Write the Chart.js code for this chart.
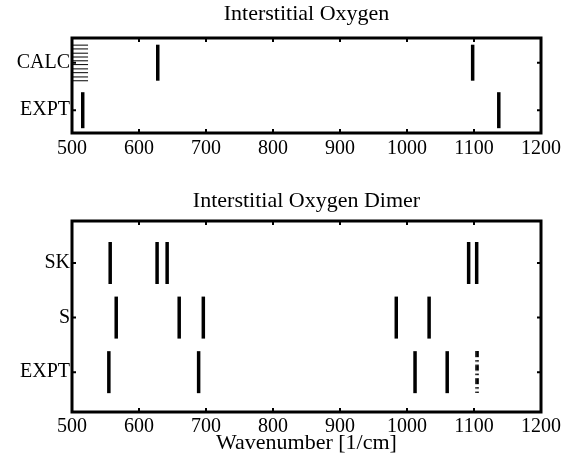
<!DOCTYPE html>
<html>
<head>
<meta charset="utf-8">
<script src="https://cdn.jsdelivr.net/npm/chart.js@4.4.1/dist/chart.umd.min.js"></script>
<style>
  html, body { margin: 0; padding: 0; background: #fff; }
  #wrap { position: relative; width: 571px; height: 459px; }
  canvas { position: absolute; left: 0; }
</style>
</head>
<body>
<div id="wrap">
  <canvas id="oxy" width="571" height="180" style="top:0;width:571px;height:180px"></canvas>
  <canvas id="dimer" width="571" height="279" style="top:180px;width:571px;height:279px"></canvas>
</div>
<script>
// wavenumber ticks shared by both panels
const xTicks = [500, 600, 700, 800, 900, 1000, 1100, 1200];

// Interstitial Oxygen (rows bottom -> top)
const oxyRows = ["EXPT", "CALC"];
const oxyExpt = [516, 1137];
const oxyCalc = [628, 1098];
// short horizontal lines stacked at the left edge of the CALC row (y in row units)
const oxyCalcHatch = [2.37, 2.29, 2.2, 2.12, 2.04, 1.96, 1.87, 1.79, 1.7, 1.62];
const oxyHatchX = 512;

// Interstitial Oxygen Dimer (rows bottom -> top)
const dimerRows = ["EXPT", "S", "SK"];
const dimerSK = [557, 627, 642, 1092, 1104];
const dimerS = [566, 660, 696, 984, 1033];
const dimerExpt = [555, 689, 1012, 1060];
const dimerExptDashed = [1105];

const serif = "'Liberation Serif', 'Times New Roman', serif";

// dash-dot vertical stroke used as a point style
function dashDotMark(len) {
  const c = document.createElement("canvas");
  c.width = 4;
  c.height = len;
  const g = c.getContext("2d");
  g.strokeStyle = "#000";
  g.lineWidth = 3.5;
  g.setLineDash([6, 3, 1.5, 3]);
  g.beginPath();
  g.moveTo(2, 0);
  g.lineTo(2, len);
  g.stroke();
  return c;
}

function marks(xs, row, radius) {
  return {
    data: xs.map((v) => ({ x: v, y: row })),
    pointStyle: "line",
    rotation: 90,
    radius: radius,
    borderWidth: 3.5,
    borderColor: "#000",
    showLine: false,
  };
}

// box frame with inward tick marks on all four sides
const frame = {
  id: "frame",
  afterDraw(chart) {
    const { ctx, chartArea: a, scales } = chart;
    const x = scales.x, y = scales.y;
    ctx.save();
    ctx.strokeStyle = "#000";
    ctx.lineWidth = 2;
    ctx.beginPath();
    x.ticks.forEach((t) => {
      const px = x.getPixelForValue(t.value);
      ctx.moveTo(px, a.bottom);
      ctx.lineTo(px, a.bottom - 4);
      ctx.moveTo(px, a.top);
      ctx.lineTo(px, a.top + 4);
    });
    y.ticks.forEach((t) => {
      const py = y.getPixelForValue(t.value);
      ctx.moveTo(a.left, py);
      ctx.lineTo(a.left + 4, py);
      ctx.moveTo(a.right, py);
      ctx.lineTo(a.right - 4, py);
    });
    ctx.stroke();
    ctx.lineWidth = 3;
    ctx.strokeRect(a.left, a.top, a.right - a.left, a.bottom - a.top);
    ctx.restore();
  },
};

function makeChart(id, cfg) {
  return new Chart(document.getElementById(id), {
    type: "scatter",
    data: { datasets: cfg.datasets },
    options: {
      responsive: false,
      animation: false,
      layout: { padding: { left: 0, right: 30, top: 0, bottom: 0 } },
      plugins: { legend: { display: false }, tooltip: { enabled: false } },
      scales: {
        x: {
          type: "linear",
          min: 500,
          max: 1200,
          afterBuildTicks: (s) => { s.ticks = xTicks.map((v) => ({ value: v })); },
          ticks: { font: { family: serif, size: 20 }, color: "#000", padding: cfg.tickPad, maxRotation: 0, autoSkip: false, callback: (v) => String(v) },
          grid: { display: false, drawTicks: false },
          border: { display: false },
          title: cfg.xTitle
            ? { display: true, text: cfg.xTitle, font: { family: serif, size: 22 }, color: "#000", padding: { top: 0, bottom: cfg.xTitlePad } }
            : { display: false },
          afterFit: (s) => { s.height = cfg.bottomH; },
        },
        x2: {
          type: "linear",
          axis: "x",
          position: "top",
          min: 500,
          max: 1200,
          ticks: { display: false },
          grid: { display: false, drawTicks: false },
          border: { display: false },
          title: { display: true, text: cfg.title, font: { family: serif, size: 22 }, color: "#000", padding: { top: cfg.titlePad, bottom: 0 } },
          afterFit: (s) => { s.height = cfg.topH; },
        },
        y: {
          type: "linear",
          min: cfg.yMin,
          max: cfg.yMax,
          afterBuildTicks: (s) => { s.ticks = cfg.rows.map((r, i) => ({ value: i + 1 })); },
          ticks: { font: { family: serif, size: 20 }, color: "#000", padding: 2, callback: (v) => cfg.rows[v - 1] },
          grid: { display: false, drawTicks: false },
          border: { display: false },
          afterFit: (s) => { s.width = 72; },
        },
      },
    },
    plugins: [frame],
  });
}

makeChart("oxy", {
  title: "Interstitial Oxygen",
  rows: oxyRows,
  yMin: 0.52,
  yMax: 2.52,
  topH: 38,
  bottomH: 47,
  titlePad: 1,
  tickPad: 4,
  datasets: [
    marks(oxyExpt, 1, 18),
    marks(oxyCalc, 2, 18),
    {
      data: oxyCalcHatch.map((v) => ({ x: oxyHatchX, y: v })),
      pointStyle: "line",
      rotation: 0,
      radius: 8,
      borderWidth: 1,
      borderColor: "#000",
      showLine: false,
    },
  ],
});

makeChart("dimer", {
  title: "Interstitial Oxygen Dimer",
  rows: dimerRows,
  yMin: 0.27,
  yMax: 3.77,
  topH: 41,
  bottomH: 47,
  titlePad: 8,
  tickPad: 3,
  xTitle: "Wavenumber [1/cm]",
  xTitlePad: 3,
  datasets: [
    marks(dimerSK, 3, 21),
    marks(dimerS, 2, 21),
    marks(dimerExpt, 1, 21),
    {
      data: dimerExptDashed.map((v) => ({ x: v, y: 1 })),
      pointStyle: dashDotMark(42),
      radius: 21,
      showLine: false,
    },
  ],
});
</script>
</body>
</html>
